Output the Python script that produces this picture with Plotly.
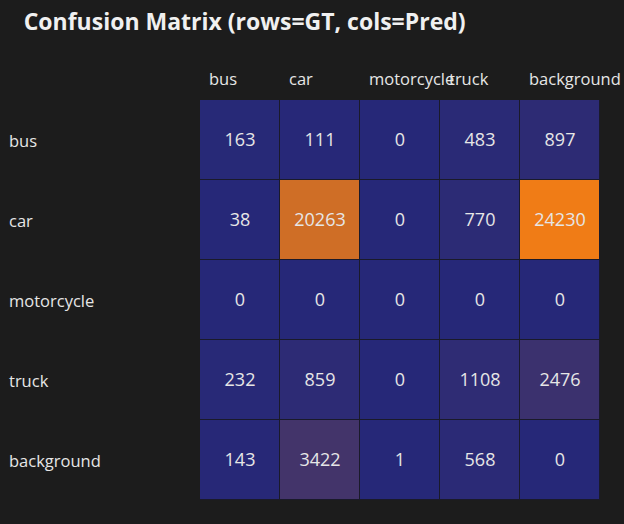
import plotly.graph_objects as go

classes = ["bus", "car", "motorcycle", "truck", "background"]
gt_rows = ["bus", "car", "motorcycle", "truck", "background"]
counts = [
    [163, 111, 0, 483, 897],
    [38, 20263, 0, 770, 24230],
    [0, 0, 0, 0, 0],
    [232, 859, 0, 1108, 2476],
    [143, 3422, 1, 568, 0],
]

BG = "#1c1c1c"
TXT = "#e6e6e6"
FONT = "Open Sans"

fig = go.Figure(go.Heatmap(
    z=counts, x=classes, y=gt_rows,
    colorscale=[[0, "#262878"], [1, "#f07c16"]],
    zmin=0, zmax=max(max(r) for r in counts),
    showscale=False, xgap=1, ygap=1,
    texttemplate="%{z:d}", textfont=dict(family=FONT, size=18, color=TXT),
    hoverinfo="skip",
))

annotations = []
for c in classes:
    annotations.append(dict(x=c, y=1, xref="x", yref="paper", text=c, showarrow=False,
                            xanchor="left", yanchor="bottom", xshift=-33, yshift=8,
                            font=dict(family=FONT, size=16.5, color=TXT)))
for r in gt_rows:
    annotations.append(dict(x=-0.482, y=r, xref="paper", yref="y", text=r, showarrow=False,
                            xanchor="left", yanchor="middle",
                            font=dict(family=FONT, size=16.5, color=TXT)))

fig.update_layout(
    width=624, height=524,
    margin=dict(l=200, r=24, t=100, b=24),
    paper_bgcolor=BG, plot_bgcolor="#1a1a2a",
    title=dict(text="<b>Confusion Matrix (rows=GT, cols=Pred)</b>", x=0.038, xanchor="left",
               y=0.958, yanchor="middle", font=dict(family=FONT, size=23, color="#f0f0f0")),
    xaxis=dict(showticklabels=False, showgrid=False, zeroline=False, side="top",
               range=[-0.5, len(classes) - 0.5], fixedrange=True),
    yaxis=dict(showticklabels=False, showgrid=False, zeroline=False,
               range=[len(gt_rows) - 0.5, -0.5], fixedrange=True),
    annotations=annotations,
)

fig.write_html("out.html")
